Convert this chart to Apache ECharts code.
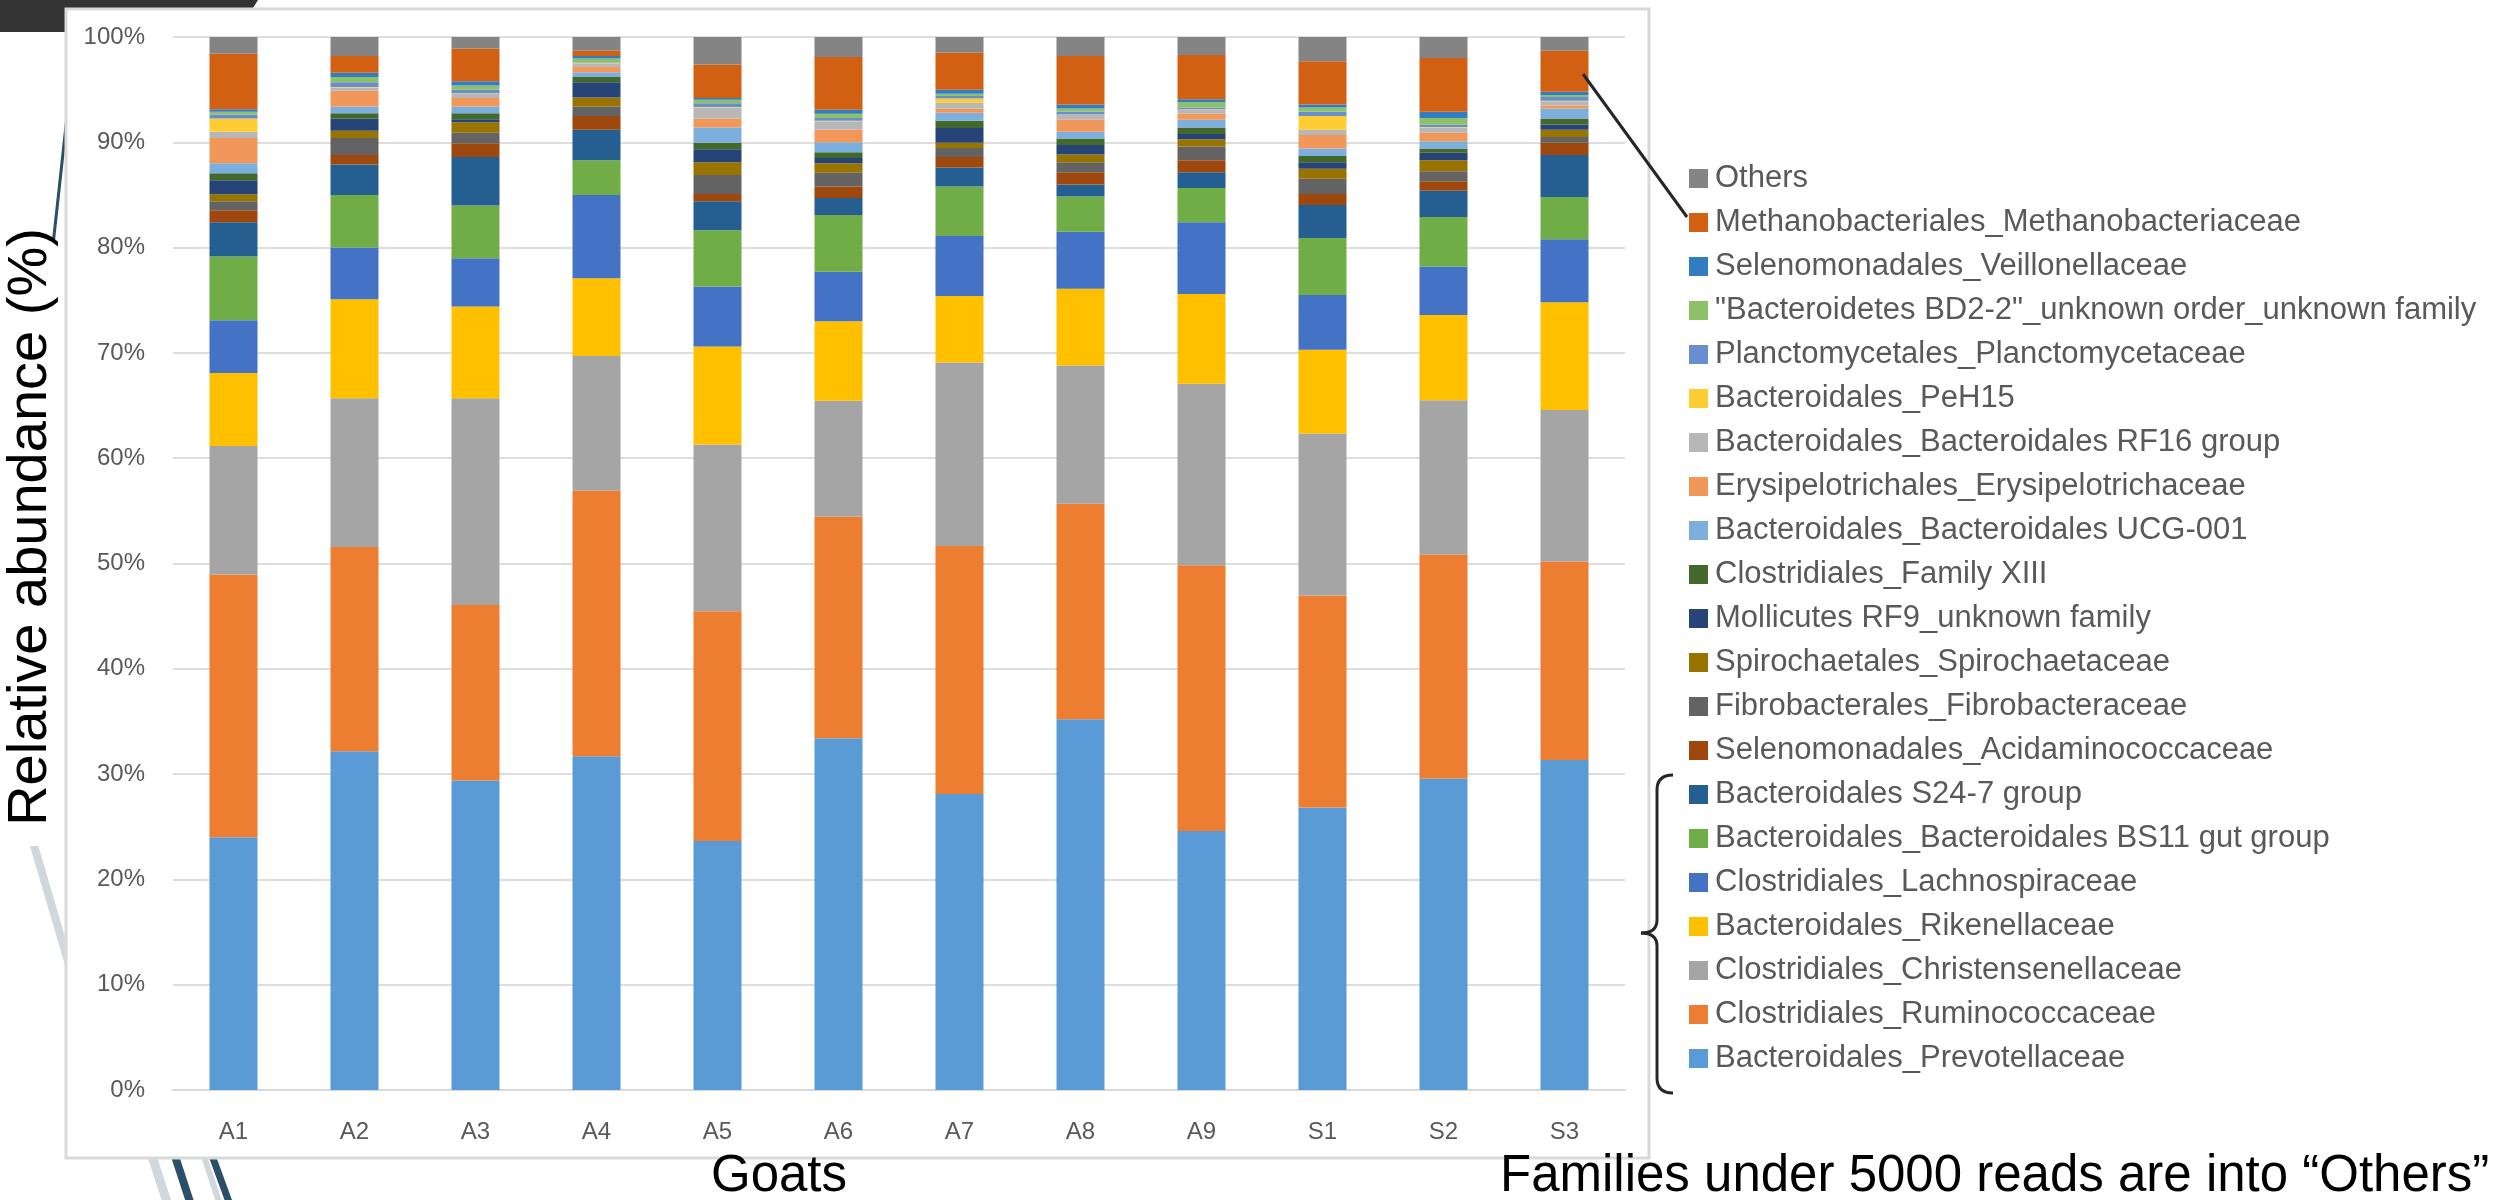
<!DOCTYPE html>
<html>
<head>
<meta charset="utf-8">
<script src="https://cdn.jsdelivr.net/npm/echarts@6/dist/echarts.min.js"></script>
<style>
html,body{margin:0;padding:0;background:#ffffff;}
#chart{width:2496px;height:1200px;}
</style>
</head>
<body>
<div id="chart"></div>
<script>
const categories = ['A1','A2','A3','A4','A5','A6','A7','A8','A9','S1','S2','S3'];

const prevotellaceae      = [24.0, 32.16, 29.4, 31.7, 23.65, 33.4, 28.1, 35.2, 24.6, 26.83, 29.58, 31.33];
const ruminococcaceae     = [24.95, 19.41, 16.67, 25.2, 21.81, 21.05, 23.56, 20.47, 25.23, 20.12, 21.25, 18.87];
const christensenellaceae = [12.22, 14.13, 19.63, 12.8, 15.84, 11.0, 17.44, 13.13, 17.23, 15.4, 14.67, 14.37];
const rikenellaceae       = [6.93, 9.4, 8.7, 7.4, 9.3, 7.55, 6.3, 7.3, 8.54, 7.95, 8.1, 10.23];
const lachnospiraceae     = [5.0, 4.9, 4.6, 7.9, 5.7, 4.7, 5.7, 5.4, 6.8, 5.2, 4.6, 6.0];
const bs11GutGroup        = [6.05, 5.0, 5.0, 3.3, 5.35, 5.4, 4.7, 3.35, 3.25, 5.4, 4.7, 4.0];
const s247Group           = [3.25, 2.9, 4.6, 2.9, 2.75, 1.6, 1.8, 1.15, 1.5, 3.15, 2.5, 4.0];
const acidaminococcaceae  = [1.15, 0.9, 1.3, 1.3, 0.7, 1.1, 1.0, 1.15, 1.15, 1.05, 0.9, 1.15];
const fibrobacteraceae    = [0.85, 1.6, 1.0, 0.9, 1.8, 1.3, 0.85, 0.95, 1.3, 1.45, 0.95, 0.55];
const spirochaetaceae     = [0.66, 0.7, 1.0, 0.85, 1.2, 0.9, 0.5, 0.75, 0.7, 0.95, 1.05, 0.7];
const mollicutesRF9       = [1.34, 1.15, 0.3, 1.45, 1.25, 0.5, 1.4, 0.9, 0.5, 0.6, 0.7, 0.5];
const familyXIII          = [0.66, 0.5, 0.55, 0.5, 0.6, 0.55, 0.7, 0.6, 0.6, 0.6, 0.4, 0.55];
const ucg001              = [0.94, 0.65, 0.65, 0.45, 1.45, 0.95, 0.75, 0.65, 0.75, 0.7, 0.7, 0.95];
const erysipelotrichaceae = [2.4, 1.5, 0.8, 0.5, 0.85, 1.2, 0.4, 1.15, 0.55, 1.3, 0.8, 0.3];
const rf16Group           = [0.6, 0.3, 0.4, 0.35, 1.05, 0.8, 0.55, 0.45, 0.4, 0.5, 0.5, 0.4];
const peh15               = [1.25, 0.05, 0.05, 0.05, 0.05, 0.05, 0.4, 0.05, 0.05, 1.3, 0.05, 0.05];
const planctomycetaceae   = [0.4, 0.45, 0.35, 0.05, 0.35, 0.25, 0.25, 0.25, 0.15, 0.4, 0.25, 0.35];
const bd22                = [0.25, 0.5, 0.4, 0.35, 0.35, 0.4, 0.2, 0.3, 0.5, 0.4, 0.6, 0.2];
const veillonellaceae     = [0.23, 0.4, 0.4, 0.25, 0.15, 0.4, 0.4, 0.4, 0.3, 0.3, 0.6, 0.3];
const methanobacteriaceae = [5.27, 1.6, 3.1, 0.5, 3.2, 5.0, 3.5, 4.6, 4.2, 4.1, 5.1, 3.9];
const others              = [1.6, 1.8, 1.1, 1.3, 2.6, 1.9, 1.5, 1.8, 1.7, 2.3, 2.0, 1.3];

const seriesNames = [
  'Bacteroidales_Prevotellaceae',
  'Clostridiales_Ruminococcaceae',
  'Clostridiales_Christensenellaceae',
  'Bacteroidales_Rikenellaceae',
  'Clostridiales_Lachnospiraceae',
  'Bacteroidales_Bacteroidales BS11 gut group',
  'Bacteroidales S24-7 group',
  'Selenomonadales_Acidaminococcaceae',
  'Fibrobacterales_Fibrobacteraceae',
  'Spirochaetales_Spirochaetaceae',
  'Mollicutes RF9_unknown family',
  'Clostridiales_Family XIII',
  'Bacteroidales_Bacteroidales UCG-001',
  'Erysipelotrichales_Erysipelotrichaceae',
  'Bacteroidales_Bacteroidales RF16 group',
  'Bacteroidales_PeH15',
  'Planctomycetales_Planctomycetaceae',
  '"Bacteroidetes BD2-2"_unknown order_unknown family',
  'Selenomonadales_Veillonellaceae',
  'Methanobacteriales_Methanobacteriaceae',
  'Others'
];
const seriesValues = [
  prevotellaceae, ruminococcaceae, christensenellaceae, rikenellaceae, lachnospiraceae,
  bs11GutGroup, s247Group, acidaminococcaceae, fibrobacteraceae, spirochaetaceae,
  mollicutesRF9, familyXIII, ucg001, erysipelotrichaceae, rf16Group, peh15,
  planctomycetaceae, bd22, veillonellaceae, methanobacteriaceae, others
];
const seriesColors = [
  '#5B9BD5','#ED7D31','#A5A5A5','#FFC000','#4472C4','#70AD47','#255E91','#9E480E',
  '#636363','#997300','#264478','#43682B','#7CAFDD','#F1975A','#B7B7B7','#FFCD33',
  '#698ED0','#8CC168','#327DC2','#D26012','#848484'
];

const FONT = "'Liberation Sans', Arial, sans-serif";

const chart = echarts.init(document.getElementById('chart'), null, {renderer: 'canvas'});

const series = seriesNames.map((name, i) => ({
  name: name,
  type: 'bar',
  stack: 'total',
  barWidth: 48,
  data: seriesValues[i],
  itemStyle: {color: seriesColors[i]},
  emphasis: {disabled: true}
}));

const braceStyle = {stroke: '#262626', lineWidth: 3, fill: null};

const option = {
  animation: false,
  backgroundColor: '#ffffff',
  grid: {left: 173, right: 871, top: 37, bottom: 110, containLabel: false},
  xAxis: {
    type: 'category',
    data: categories,
    axisLine: {lineStyle: {color: '#D9D9D9', width: 2}},
    axisTick: {show: false},
    axisLabel: {color: '#595959', fontSize: 24, fontFamily: FONT, margin: 30}
  },
  yAxis: {
    type: 'value',
    min: 0, max: 100, interval: 10,
    axisLine: {show: false},
    axisTick: {show: false},
    axisLabel: {color: '#595959', fontSize: 24, fontFamily: FONT, margin: 28, formatter: '{value}%'},
    splitLine: {lineStyle: {color: '#DDDDDD', width: 2}}
  },
  legend: {
    orient: 'vertical',
    left: 1689,
    top: 163,
    padding: 0,
    itemWidth: 19,
    itemHeight: 19,
    itemGap: 13,
    icon: 'rect',
    selectedMode: false,
    data: seriesNames.slice().reverse(),
    textStyle: {color: '#595959', fontSize: 31, lineHeight: 30, fontFamily: FONT, padding: [0, 0, 0, 2]}
  },
  graphic: [
    {type: 'polygon', z: -10, shape: {points: [[0,0],[258,0],[238,32],[0,32]]}, style: {fill: '#333333'}},
    {type: 'line', z: -10, shape: {x1: 71, y1: 80, x2: 53, y2: 245}, style: {stroke: '#2B4F66', lineWidth: 3}},
    {type: 'line', z: -10, shape: {x1: 28, y1: 825, x2: 72, y2: 975}, style: {stroke: '#D0D8DE', lineWidth: 8}},
    {type: 'line', z: -10, shape: {x1: 150, y1: 1150, x2: 167, y2: 1202}, style: {stroke: '#D0D8DE', lineWidth: 9}},
    {type: 'line', z: -10, shape: {x1: 173, y1: 1150, x2: 190, y2: 1202}, style: {stroke: '#2B4F66', lineWidth: 8}},
    {type: 'line', z: -10, shape: {x1: 202, y1: 1150, x2: 219, y2: 1202}, style: {stroke: '#D0D8DE', lineWidth: 6}},
    {type: 'line', z: -10, shape: {x1: 210, y1: 1150, x2: 229, y2: 1202}, style: {stroke: '#2B4F66', lineWidth: 7}},
    {type: 'rect', z: -9, shape: {x: 0, y: 240, width: 66, height: 606}, style: {fill: '#ffffff'}},
    {type: 'rect', z: -8, shape: {x: 66, y: 9, width: 1583, height: 1149}, style: {fill: '#ffffff', stroke: '#D9D9D9', lineWidth: 3}},
    {type: 'text', z: 10, x: 31, y: 527, rotation: Math.PI / 2,
     style: {text: 'Relative abundance (%)', fill: '#000000', font: "56px 'Liberation Sans', Arial, sans-serif", align: 'center', verticalAlign: 'middle'}},
    {type: 'text', z: 10, x: 779, y: 1177,
     style: {text: 'Goats', fill: '#000000', font: "51px 'Liberation Sans', Arial, sans-serif", align: 'center', verticalAlign: 'middle'}},
    {type: 'text', z: 10, x: 1500, y: 1177,
     style: {text: 'Families under 5000 reads are into \u201COthers\u201D', fill: '#000000', font: "51px 'Liberation Sans', Arial, sans-serif", align: 'left', verticalAlign: 'middle'}},
    {type: 'line', z: 20, shape: {x1: 1583, y1: 74, x2: 1687, y2: 217}, style: {stroke: '#262626', lineWidth: 3}},
    {type: 'bezierCurve', z: 20, shape: {x1: 1673, y1: 775, cpx1: 1657, cpy1: 775, x2: 1657, y2: 790}, style: braceStyle},
    {type: 'line', z: 20, shape: {x1: 1657, y1: 790, x2: 1657, y2: 920}, style: braceStyle},
    {type: 'bezierCurve', z: 20, shape: {x1: 1657, y1: 920, cpx1: 1657, cpy1: 933, x2: 1641, y2: 933}, style: braceStyle},
    {type: 'bezierCurve', z: 20, shape: {x1: 1641, y1: 933, cpx1: 1657, cpy1: 933, x2: 1657, y2: 946}, style: braceStyle},
    {type: 'line', z: 20, shape: {x1: 1657, y1: 946, x2: 1657, y2: 1078}, style: braceStyle},
    {type: 'bezierCurve', z: 20, shape: {x1: 1657, y1: 1078, cpx1: 1657, cpy1: 1093, x2: 1673, y2: 1093}, style: braceStyle}
  ],
  series: series
};

chart.setOption(option);
</script>
</body>
</html>
